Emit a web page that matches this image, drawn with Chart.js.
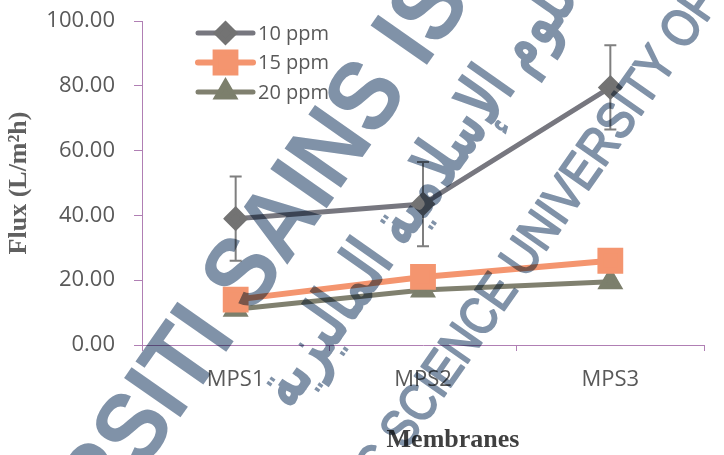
<!DOCTYPE html>
<html>
<head>
<meta charset="utf-8">
<script src="https://cdn.jsdelivr.net/npm/chart.js@4/dist/chart.umd.min.js"></script>
<style>
  html, body { margin: 0; padding: 0; background: #fff; }
  #wrap { width: 724px; height: 455px; }
</style>
</head>
<body>
<div id="wrap"><canvas id="flux" width="724" height="455"></canvas></div>
<script>
const categories = ['MPS1', 'MPS2', 'MPS3'];

const flux10 = [39, 43.5, 79.5];
const err10 = [13, 13, 13];
const flux15 = [14, 21, 26];
const err15 = [3, 2.5, 3];
const flux20 = [11, 17, 19.5];
const err20 = [1, 1, 1];

const yTicks = [0, 20, 40, 60, 80, 100];

const axisColor = '#b07fb4';
const textColor = '#595959';
const stampColor = 'rgb(128,146,168)';

Chart.defaults.font.family = "'Open Sans', sans-serif";
Chart.defaults.color = textColor;

// vertical error bars with caps, drawn under the lines
const errorBars = {
    id: 'errorBars',
    beforeDatasetsDraw(chart) {
        const { ctx } = chart;
        const y = chart.scales.y;
        chart.data.datasets.forEach((ds, i) => {
            const meta = chart.getDatasetMeta(i);
            ctx.save();
            ctx.strokeStyle = ds.errorColor;
            ctx.lineWidth = 2;
            meta.data.forEach((pt, j) => {
                const top = y.getPixelForValue(ds.data[j] + ds.errors[j]);
                const bot = y.getPixelForValue(ds.data[j] - ds.errors[j]);
                ctx.beginPath();
                ctx.moveTo(pt.x, top);
                ctx.lineTo(pt.x, bot);
                ctx.moveTo(pt.x - 6, top);
                ctx.lineTo(pt.x + 6, top);
                ctx.moveTo(pt.x - 6, bot);
                ctx.lineTo(pt.x + 6, bot);
                ctx.stroke();
            });
            ctx.restore();
        });
    }
};

// legend inside the plot, top left
const innerLegend = {
    id: 'innerLegend',
    afterDatasetsDraw(chart) {
        const { ctx, chartArea } = chart;
        const x0 = chartArea.left + 56;
        chart.data.datasets.forEach((ds, i) => {
            const yy = chartArea.top + 12 + i * 29.5;
            ctx.save();
            ctx.strokeStyle = ds.borderColor;
            ctx.lineWidth = ds.borderWidth;
            ctx.lineCap = 'round';
            ctx.beginPath();
            ctx.moveTo(x0, yy);
            ctx.lineTo(x0 + 55, yy);
            ctx.stroke();
            ctx.fillStyle = ds.pointBackgroundColor;
            ctx.strokeStyle = ds.pointBorderColor;
            Chart.helpers.drawPoint(ctx, {
                pointStyle: ds.pointStyle,
                radius: ds.pointRadius,
                borderWidth: 1
            }, x0 + 27.5, yy);
            ctx.fillStyle = textColor;
            ctx.font = "20px 'Open Sans'";
            ctx.textBaseline = 'middle';
            ctx.fillText(ds.label, x0 + 60, yy + 1);
            ctx.restore();
        });
    }
};

// x axis title, set a little right of the plot centre
const xTitle = {
    id: 'xTitle',
    afterDraw(chart) {
        const { ctx, chartArea } = chart;
        ctx.save();
        ctx.font = "bold 26px 'Liberation Serif'";
        ctx.fillStyle = '#404040';
        ctx.textAlign = 'center';
        ctx.textBaseline = 'middle';
        ctx.fillText('Membranes', (chartArea.left + chartArea.right) / 2 + 30, 440);
        ctx.restore();
    }
};

// one rotated line of the stamp, placed by the centre of one character
function stampLine(ctx, text, anchor, cx, cy, deg, font, squeeze, thicken) {
    ctx.save();
    ctx.font = font;
    ctx.translate(cx, cy);
    ctx.rotate(deg * Math.PI / 180);
    ctx.scale(squeeze, 1);
    const pre = ctx.measureText(text.slice(0, anchor)).width;
    const w = ctx.measureText(text[anchor]).width;
    const cap = ctx.measureText('H').actualBoundingBoxAscent;
    ctx.fillText(text, -pre - w / 2, cap / 2);
    if (thicken) {
        ctx.lineWidth = thicken;
        ctx.lineJoin = 'round';
        ctx.strokeText(text, -pre - w / 2, cap / 2);
    }
    ctx.restore();
}

// institutional stamp printed across the figure; drawn on its own layer,
// then multiplied over the chart so the marks show through darker
const stamp = {
    id: 'stamp',
    afterDraw(chart) {
        const layer = document.createElement('canvas');
        layer.width = chart.width;
        layer.height = chart.height;
        const lc = layer.getContext('2d');
        lc.fillStyle = stampColor;
        lc.strokeStyle = stampColor;

        const big = 'UNIVERSITI SAINS ISLAM MALAYSIA';
        stampLine(lc, big, big.indexOf('SAINS'), 240, 271, -55, "bold 100px 'Liberation Sans'", 0.9, 0);
        const small = 'ISLAMIC SCIENCE UNIVERSITY OF MALAYSIA';
        stampLine(lc, small, small.indexOf('SCIENCE'), 400, 428, -55, "52px 'Liberation Sans'", 0.85, 2);

        // arabic line between the two latin ones, reading down-left
        lc.save();
        lc.translate(432, 178);
        lc.rotate(-55 * Math.PI / 180);
        lc.font = "bold 100px 'DejaVu Sans'";
        lc.direction = 'rtl';
        lc.textAlign = 'center';
        lc.textBaseline = 'middle';
        const arabic = 'العلوم الإسلامية الماليزية';
        const k = 540 / lc.measureText(arabic).width;
        lc.font = `bold ${Math.round(100 * k)}px 'DejaVu Sans'`;
        lc.scale(1, 1.6);
        lc.fillText(arabic, 0, 0);
        lc.restore();

        const { ctx } = chart;
        ctx.save();
        ctx.globalCompositeOperation = 'multiply';
        ctx.drawImage(layer, 0, 0);
        ctx.restore();
    }
};

new Chart(document.getElementById('flux'), {
    type: 'line',
    data: {
        labels: categories,
        datasets: [{
            label: '10 ppm',
            data: flux10,
            errors: err10,
            errorColor: '#7f7f7f',
            borderColor: '#77777f',
            borderWidth: 5,
            pointStyle: 'rectRot',
            pointRadius: 9,
            pointBackgroundColor: '#737373',
            pointBorderColor: '#737373',
        }, {
            label: '15 ppm',
            data: flux15,
            errors: err15,
            errorColor: '#6a6a6a',
            borderColor: '#f4956f',
            borderWidth: 6,
            pointStyle: 'rect',
            pointRadius: 14,
            pointBackgroundColor: '#f4956f',
            pointBorderColor: '#f4956f',
        }, {
            label: '20 ppm',
            data: flux20,
            errors: err20,
            errorColor: '#7f7f7f',
            borderColor: '#80806f',
            borderWidth: 5,
            pointStyle: 'triangle',
            pointRadius: 10,
            pointBackgroundColor: '#7c7f6c',
            pointBorderColor: '#7c7f6c',
        }]
    },
    options: {
        responsive: false,
        animation: false,
        events: [],
        layout: { padding: { top: 21, right: 0, bottom: 0, left: 0 } },
        plugins: {
            legend: { display: false },
            tooltip: { enabled: false },
        },
        scales: {
            x: {
                offset: true,
                grid: {
                    offset: true,
                    drawOnChartArea: false,
                    drawTicks: true,
                    tickLength: 6,
                    color: axisColor,
                },
                border: { color: axisColor, width: 1 },
                ticks: { font: { size: 22 }, padding: 16, color: textColor },
                afterFit(scale) { scale.height = 110; },
            },
            y: {
                min: 0,
                max: 100,
                afterBuildTicks(scale) { scale.ticks = yTicks.map(v => ({ value: v })); },
                grid: {
                    drawOnChartArea: false,
                    drawTicks: true,
                    tickLength: 8,
                    color: axisColor,
                },
                border: { color: axisColor, width: 1 },
                ticks: {
                    font: { size: 22 },
                    padding: 19,
                    color: textColor,
                    callback: v => v.toFixed(2),
                },
                title: {
                    display: true,
                    text: 'Flux (L/m²h)',
                    color: '#606060',
                    font: { family: "'Liberation Serif'", size: 26, weight: 'bold' },
                    padding: { top: 4, bottom: 4 },
                },
                afterFit(scale) {
                    scale.width = 142;
                    // let the top label overhang instead of shrinking the plot
                    scale.paddingTop = 0;
                    scale.paddingBottom = 0;
                },
            }
        }
    },
    plugins: [errorBars, innerLegend, xTitle, stamp]
});
</script>
</body>
</html>
